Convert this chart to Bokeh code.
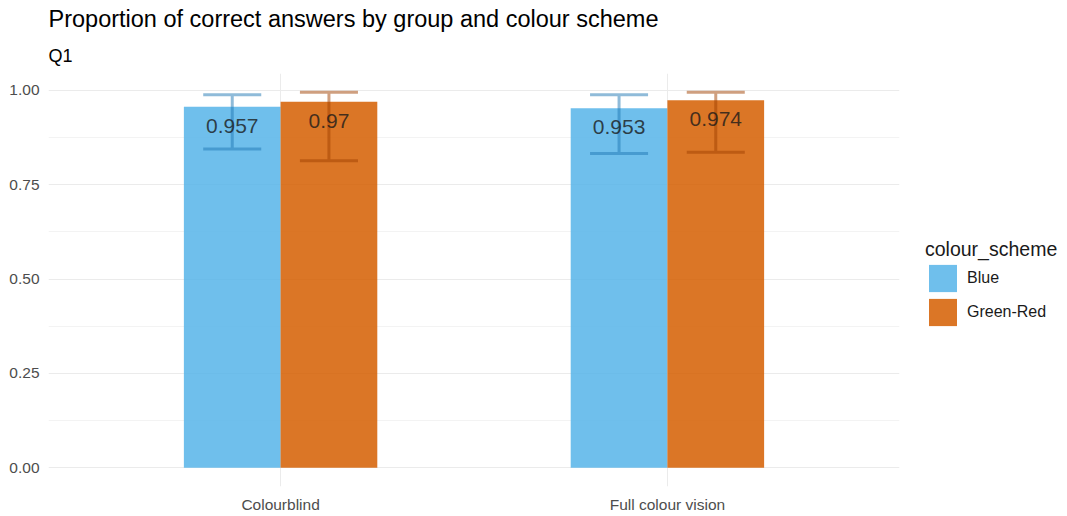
from bokeh.plotting import figure
from bokeh.models import (ColumnDataSource, Range1d, FixedTicker, Title, Legend, LegendItem,
                          NumeralTickFormatter)
from bokeh.embed import file_html
from bokeh.resources import INLINE

# ---- data ----
groups = ["Colourblind", "Full colour vision"]
schemes = ["Blue", "Green-Red"]
blue_prop = [0.957, 0.953]
blue_lower = [0.845, 0.833]
blue_upper = [0.989, 0.989]
green_red_prop = [0.970, 0.974]
green_red_lower = [0.814, 0.836]
green_red_upper = [0.995, 0.995]
y_ticks = [0.0, 0.25, 0.5, 0.75, 1.0]

FONT = "Liberation Sans"
fill_colors = ["#56B4E9", "#D55E00"]
err_colors = ["#1F78B4", "#A04000"]

x_pos = [1, 2]
dodge = 0.125
bar_w = 0.25
cap_half = 0.075

p = figure(frame_width=851, frame_height=413, output_backend="svg", toolbar_location=None,
           x_range=Range1d(0.4, 2.6), y_range=Range1d(-0.0497, 1.045),
           min_border_left=48, min_border_right=168, min_border_bottom=30, min_border_top=73,
           title="Proportion of correct answers by group and colour scheme")
p.outline_line_color = None
p.background_fill_color = "white"
p.border_fill_color = "white"

p.title.text_font = FONT
p.title.text_font_size = "23.5px"
p.title.text_font_style = "normal"
p.title.text_color = "#000000"
p.title.standoff = 7
p.add_layout(Title(text="Q1", text_font=FONT, text_font_size="18px", text_font_style="normal",
                   text_color="#000000", standoff=16), "above")

renderers = []
all_props = [blue_prop, green_red_prop]
all_low = [blue_lower, green_red_lower]
all_up = [blue_upper, green_red_upper]
for i, scheme in enumerate(schemes):
    sign = -1 if i == 0 else 1
    xs = [x + sign * dodge for x in x_pos]
    src = ColumnDataSource(dict(x=xs, top=all_props[i],
                                label=[f"{v:g}" for v in all_props[i]]))
    r = p.vbar(x="x", top="top", bottom=0, width=bar_w, source=src,
               fill_color=fill_colors[i], fill_alpha=0.85, line_color=None)
    renderers.append(r)
    exs, eys = [], []
    for xc, lo, hi in zip(xs, all_low[i], all_up[i]):
        exs.append([xc - cap_half, xc + cap_half, xc, xc, xc - cap_half, xc + cap_half])
        eys.append([hi, hi, hi, lo, lo, lo])
    p.multi_line(xs=exs, ys=eys, line_color=err_colors[i], line_alpha=0.5, line_width=3)
    p.text(x="x", y="top", text="label", source=src, text_align="center",
           text_baseline="middle", y_offset=19, text_font_size="21px",
           text_color="#1a1a1a", text_alpha=0.8, text_font={"value": FONT})

# axes
p.xaxis.ticker = FixedTicker(ticks=x_pos)
p.xaxis.major_label_overrides = {x: g for x, g in zip(x_pos, groups)}
p.yaxis.ticker = FixedTicker(ticks=y_ticks, minor_ticks=[0.125, 0.375, 0.625, 0.875])
p.yaxis.formatter = NumeralTickFormatter(format="0.00")
for ax in (p.xaxis, p.yaxis):
    ax.axis_line_color = None
    ax.major_tick_line_color = None
    ax.minor_tick_line_color = None
    ax.major_tick_out = 0
    ax.major_tick_in = 0
    ax.minor_tick_out = 0
    ax.minor_tick_in = 0
    ax.major_label_text_font = FONT
    ax.major_label_text_font_size = "15.5px"
    ax.major_label_text_color = "#4D4D4D"
p.yaxis.major_label_standoff = 9
p.xaxis.major_label_standoff = 9

p.xgrid.grid_line_color = "#EBEBEB"
p.xgrid.grid_line_width = 1
p.ygrid.grid_line_color = "#EBEBEB"
p.ygrid.grid_line_width = 1
p.ygrid.minor_grid_line_color = "#EBEBEB"
p.ygrid.minor_grid_line_width = 0.6

legend = Legend(items=[LegendItem(label=s, renderers=[r]) for s, r in zip(schemes, renderers)],
                title="colour_scheme", location=(26, 157))
legend.title_text_font = FONT
legend.title_text_font_size = "19.5px"
legend.title_text_font_style = "normal"
legend.title_text_color = "#1a1a1a"
legend.title_standoff = 0
legend.label_text_font = FONT
legend.label_text_font_size = "16px"
legend.label_text_color = "#1a1a1a"
legend.label_standoff = 7
legend.glyph_width = 35
legend.glyph_height = 34
legend.spacing = 0
legend.padding = 0
legend.margin = 0
legend.border_line_color = None
legend.background_fill_alpha = 0
p.add_layout(legend, "right")

open("out.html", "w").write(file_html(p, INLINE))
